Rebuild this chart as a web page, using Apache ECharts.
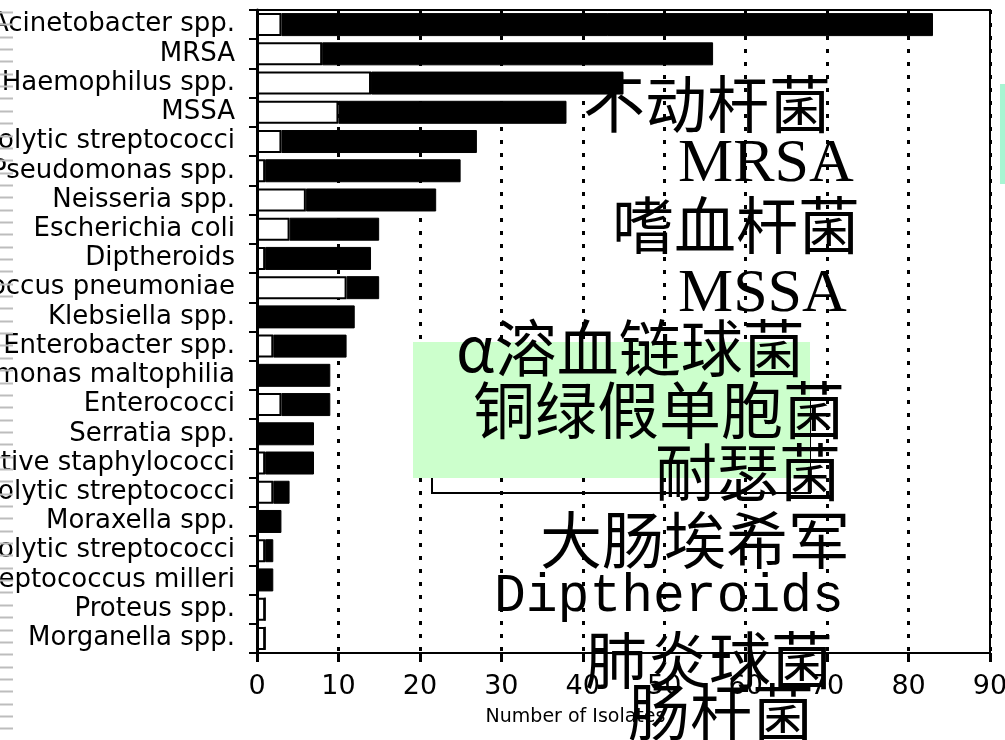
<!DOCTYPE html>
<html>
<head>
<meta charset="utf-8">
<script src="https://cdn.jsdelivr.net/npm/echarts@6/dist/echarts.min.js"></script>
<style>
  html, body { margin: 0; padding: 0; background: #fff; }
  #chart { width: 1005px; height: 740px; }
</style>
</head>
<body>
<div id="chart"></div>
<script>
// ---- data ----
const categories = [
  "Acinetobacter spp.", "MRSA", "Haemophilus spp.", "MSSA",
  "α-haemolytic streptococci", "Pseudomonas spp.", "Neisseria spp.",
  "Escherichia coli", "Diptheroids", "Streptococcus pneumoniae",
  "Klebsiella spp.", "Enterobacter spp.", "Stenotrophomonas maltophilia",
  "Enterococci", "Serratia spp.", "Coagulase-negative staphylococci",
  "β-haemolytic streptococci", "Moraxella spp.", "Non-haemolytic streptococci",
  "Streptococcus milleri", "Proteus spp.", "Morganella spp."
];
const whitePart = [3, 8, 14, 10, 3, 1, 6, 4, 1, 11, 0, 2, 0, 3, 0, 1, 2, 0, 1, 0, 1, 1];
const blackPart = [80, 48, 31, 28, 24, 24, 16, 11, 13, 4, 12, 9, 9, 6, 7, 6, 2, 3, 1, 2, 0, 0];
const xTicks = [0, 10, 20, 30, 40, 50, 60, 70, 80, 90];
const axisTitle = "Number of Isolates";
const overlayLines = [
  "不动杆菌", "MRSA", "嗜血杆菌", "MSSA", "α溶血链球菌", "铜绿假单胞菌",
  "耐瑟菌", "大肠埃希军", "Diptheroids", "肺炎球菌", "肠杆菌"
];

// ---- decoration / overlay layout ----
const overlayPos = [
  {x: 583, y: 104, f: '62px "Noto Sans CJK SC"'},
  {x: 678, y: 165, f: '62px "Liberation Serif"'},
  {x: 612, y: 225, f: '62px "Noto Sans CJK SC"'},
  {x: 678, y: 295, f: '62px "Liberation Serif"'},
  {x: 456, y: 348, f: '62px "Noto Sans CJK SC"'},
  {x: 473, y: 410, f: '62px "Noto Sans CJK SC"'},
  {x: 655, y: 472, f: '62px "Noto Sans CJK SC"'},
  {x: 540, y: 540, f: '62px "Noto Sans CJK SC"'},
  {x: 494, y: 597, f: '53px "Liberation Mono"'},
  {x: 585, y: 660, f: '62px "Noto Sans CJK SC"'},
  {x: 628, y: 712, f: '62px "Noto Sans CJK SC"'}
];

const graphics = [];
for (let i = 0; i < 59; i++) {
  const yy = Math.round(12 + i * 12.35) + 0.5;
  graphics.push({
    type: 'line', z: 50,
    shape: {x1: 0, y1: yy, x2: 13, y2: yy},
    style: {stroke: '#bdbdbd', lineWidth: 2}
  });
}
graphics.push({
  type: 'rect', z: 90,
  shape: {x: 432, y: 400, width: 378, height: 93},
  style: {fill: null, stroke: '#000', lineWidth: 2}
});
graphics.push({
  type: 'rect', z: 95,
  shape: {x: 413, y: 342, width: 397, height: 136},
  style: {fill: '#ccffcc', stroke: null}
});
graphics.push({
  type: 'rect', z: 95,
  shape: {x: 1000, y: 84, width: 5, height: 100},
  style: {fill: '#a8f5d2', stroke: null}
});
overlayLines.forEach((t, i) => {
  const p = overlayPos[i];
  graphics.push({
    type: 'text', z: 100,
    style: {
      text: t, x: p.x, y: p.y, font: p.f, fill: '#000',
      textAlign: 'left', align: 'left',
      textVerticalAlign: 'middle', verticalAlign: 'middle'
    }
  });
});

const chart = echarts.init(document.getElementById('chart'));
chart.setOption({
  animation: false,
  backgroundColor: '#fff',
  grid: {
    left: 257, right: 15, top: 10, bottom: 87,
    containLabel: false, outerBoundsMode: 'none',
    show: true, borderColor: '#000', borderWidth: 2,
    backgroundColor: 'transparent'
  },
  xAxis: {
    type: 'value', min: xTicks[0], max: xTicks[xTicks.length - 1], interval: 10,
    name: axisTitle, nameLocation: 'middle', nameGap: 55,
    nameTextStyle: {
      color: '#000', fontSize: 19, fontFamily: 'DejaVu Sans',
      padding: [0, 96, 0, 0]
    },
    axisLine: {show: true, onZero: false, lineStyle: {color: '#000', width: 2}},
    axisTick: {show: true, length: 9, lineStyle: {color: '#000', width: 3}},
    axisLabel: {
      color: '#000', fontSize: 27, fontFamily: 'DejaVu Sans', margin: 20,
      showMinLabel: true, showMaxLabel: true
    },
    splitLine: {
      show: true,
      lineStyle: {color: '#000', width: 3, type: [4, 9]}
    }
  },
  yAxis: {
    type: 'category', data: categories, inverse: true,
    axisLine: {show: true, lineStyle: {color: '#000', width: 3}},
    axisTick: {show: true, length: 8, alignWithLabel: false, lineStyle: {color: '#000', width: 2}},
    axisLabel: {
      color: '#000', fontSize: 26, fontFamily: 'DejaVu Sans', margin: 22,
      interval: 0
    },
    splitLine: {show: false}
  },
  series: [
    {
      name: 'white', type: 'bar', stack: 'total', data: whitePart,
      barWidth: 23, z: 3,
      itemStyle: {color: '#fff', borderColor: '#000', borderWidth: 2}
    },
    {
      name: 'black', type: 'bar', stack: 'total', data: blackPart,
      barWidth: 23, z: 3,
      itemStyle: {color: '#000', borderColor: '#000', borderWidth: 1}
    }
  ],
  graphic: graphics
});
</script>
</body>
</html>
